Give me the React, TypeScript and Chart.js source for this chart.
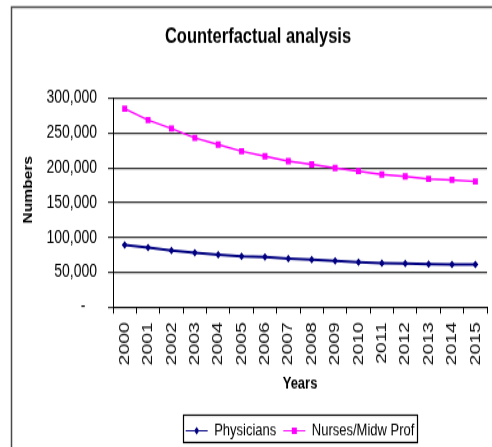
import React, { useEffect, useRef } from 'react';
import { Chart, registerables } from 'chart.js';

Chart.register(...registerables);

const years = ['2000', '2001', '2002', '2003', '2004', '2005', '2006', '2007', '2008', '2009', '2010', '2011', '2012', '2013', '2014', '2015'];
const physicians = [89300, 85400, 81500, 78100, 75300, 72800, 71900, 69900, 68500, 66600, 64700, 63200, 62600, 61800, 61500, 61500];
const nurses = [285000, 268700, 256600, 243000, 233400, 223900, 216600, 209800, 205000, 199700, 195400, 190600, 187700, 184200, 182800, 180500];
const seriesNames = ['Physicians', 'Nurses/Midw Prof'];
const seriesColors = ['#000080', '#FF00FF'];
const yTickLabels = ['-   ', '50,000', '100,000', '150,000', '200,000', '250,000', '300,000'];
const chartTitle = 'Counterfactual analysis';
const xTitle = 'Years';
const yTitle = '      Numbers';

const W = 500;
const H = 344;
const DISPLAY_H = 447;
const FONT = '"Liberation Sans", Arial, sans-serif';
const LEGEND_BOX_W = 22;
const LEGEND_FONT = 13;

const framePlugin = {
  id: 'frame',
  beforeDraw(chart: any) {
    const ctx = chart.ctx;
    ctx.save();
    ctx.strokeStyle = '#4a4a4a';
    ctx.lineWidth = 1.5;
    ctx.strokeRect(11.5, 5.5, W + 50, H + 50);
    ctx.restore();
  },
};

const legendDecorPlugin = {
  id: 'legendDecor',
  afterDraw(chart: any) {
    const legend = chart.legend;
    if (!legend || !legend.legendHitBoxes || !legend.legendHitBoxes.length) return;
    const ctx = chart.ctx;
    const hbs = legend.legendHitBoxes;
    let l = Infinity, r = -Infinity, t = Infinity;
    hbs.forEach((hb: any) => {
      l = Math.min(l, hb.left);
      r = Math.max(r, hb.left + hb.width);
      t = Math.min(t, hb.top);
    });
    const cyAll = t + LEGEND_FONT / 2;
    ctx.save();
    ctx.strokeStyle = '#000';
    ctx.lineWidth = 1.2;
    const top = Math.round(cyAll - 13) + 0.5;
    const bottom = H - 3.5;
    ctx.strokeRect(Math.round(l - 3) + 0.5, top, Math.round(r - l + 5), bottom - top);
    hbs.forEach((hb: any, i: number) => {
      const cx = hb.left + LEGEND_BOX_W / 2;
      const cy = hb.top + LEGEND_FONT / 2;
      ctx.fillStyle = seriesColors[i];
      ctx.beginPath();
      if (i === 0) {
        ctx.moveTo(cx, cy - 3);
        ctx.lineTo(cx + 2.5, cy);
        ctx.lineTo(cx, cy + 3);
        ctx.lineTo(cx - 2.5, cy);
        ctx.closePath();
      } else {
        ctx.rect(cx - 2.5, cy - 2.5, 5, 5);
      }
      ctx.fill();
    });
    ctx.restore();
  },
};

export default function App() {
  const ref = useRef<HTMLCanvasElement>(null);

  useEffect(() => {
    const canvas = ref.current;
    if (!canvas) return;
    const chart = new Chart(canvas, {
      type: 'line',
      data: {
        labels: years,
        datasets: [
          {
            label: seriesNames[0],
            data: physicians,
            borderColor: seriesColors[0],
            backgroundColor: seriesColors[0],
            borderWidth: 2,
            pointStyle: 'rectRot',
            pointRadius: 3,
            pointBorderWidth: 0,
            pointBackgroundColor: seriesColors[0],
            tension: 0,
          },
          {
            label: seriesNames[1],
            data: nurses,
            borderColor: seriesColors[1],
            backgroundColor: seriesColors[1],
            borderWidth: 1.5,
            pointStyle: 'rect',
            pointRadius: 3.5,
            pointBorderWidth: 0,
            pointBackgroundColor: seriesColors[1],
            tension: 0,
          },
        ],
      },
      options: {
        animation: false,
        responsive: false,
        devicePixelRatio: 1,
        events: [],
        layout: { padding: { left: 16, right: 0, top: 0, bottom: -4 } },
        plugins: {
          title: {
            display: true,
            text: chartTitle,
            color: '#000',
            font: { family: FONT, size: 16.5, weight: 'bold' },
            padding: { top: 19, bottom: 36.8 },
          },
          legend: {
            position: 'bottom',
            fullSize: false,
            labels: {
              boxWidth: LEGEND_BOX_W,
              boxHeight: 1,
              color: '#000',
              padding: 7,
              font: { family: FONT, size: LEGEND_FONT },
              generateLabels: (c: any) =>
                Chart.defaults.plugins.legend.labels.generateLabels(c).map((it: any) => ({
                  ...it,
                  lineWidth: 0,
                  fillStyle: it.strokeStyle,
                })),
            },
          },
          tooltip: { enabled: false },
        },
        scales: {
          x: {
            type: 'category',
            offset: true,
            grid: {
              display: true,
              drawOnChartArea: false,
              drawTicks: true,
              tickLength: 5,
              offset: true,
              color: '#000',
            },
            border: { display: true, color: '#000', width: 1 },
            ticks: {
              autoSkip: false,
              minRotation: 90,
              maxRotation: 90,
              padding: 6.5,
              color: '#111',
              font: { family: FONT, size: 15 },
            },
            title: {
              display: true,
              text: xTitle,
              color: '#000',
              font: { family: FONT, size: 13, weight: 'bold' },
              padding: { top: 0, bottom: 14.7 },
            },
          },
          y: {
            min: 0,
            max: 300000,
            ticks: {
              stepSize: 50000,
              padding: 11,
              color: '#000',
              font: { family: FONT, size: 14 },
              callback: (_v: any, i: number) => yTickLabels[i],
            },
            grid: { color: '#333', lineWidth: 1.2, tickLength: 5, drawTicks: true },
            border: { display: true, color: '#000', width: 1 },
            title: {
              display: true,
              text: yTitle,
              color: '#000',
              font: { family: FONT, size: 12, weight: 'bold' },
              padding: { top: 5, bottom: 0 },
            },
            afterFit: (s: any) => {
              s.width = 97;
            },
          },
        },
      },
      plugins: [framePlugin, legendDecorPlugin],
    });
    return () => chart.destroy();
  }, []);

  return (
    <div style={{ position: 'absolute', left: 0, top: 0, width: 492, height: DISPLAY_H, overflow: 'hidden', background: '#fff' }}>
      <canvas
        ref={ref}
        width={W}
        height={H}
        style={{ width: W + 'px', height: DISPLAY_H + 'px', display: 'block' }}
      />
    </div>
  );
}
